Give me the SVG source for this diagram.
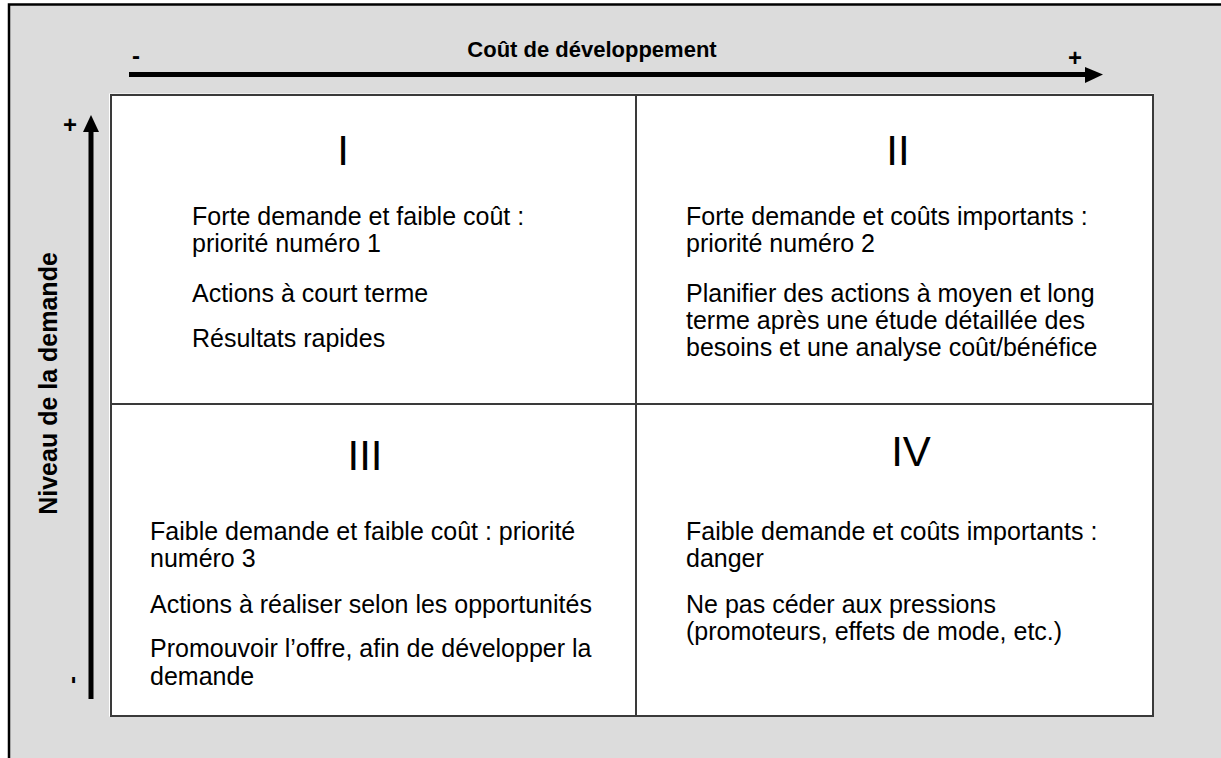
<svg xmlns="http://www.w3.org/2000/svg" width="1221" height="758" viewBox="0 0 1221 758">
<style>
.t{font-family:"Liberation Sans",Arial,sans-serif;font-size:25px;fill:#000}
.r{font-family:"Liberation Sans",Arial,sans-serif;font-size:42px;fill:#000;text-anchor:middle}
.b{font-family:"Liberation Sans",Arial,sans-serif;font-weight:bold;fill:#000;text-anchor:middle}
.grid{fill:none;stroke:#3a3a3a;stroke-width:2}
</style>
<rect x="0" y="0" width="1221" height="758" fill="#ffffff"/>
<rect x="9" y="4.5" width="1222" height="770" fill="#dcdcdc" stroke="#000" stroke-width="2.5"/>
<g id="matrix">
<rect x="109" y="93.5" width="1045" height="623" fill="#ffffff"/>
<rect x="111" y="95" width="1042" height="621" class="grid"/>
<line x1="111" y1="404" x2="1153" y2="404" class="grid"/>
<line x1="636" y1="95" x2="636" y2="716" class="grid"/>
</g>
<g id="axis-x">
<text class="b" x="592" y="57" font-size="22">Coût de développement</text>
<text class="b" x="136" y="64" font-size="24">-</text>
<text class="b" x="1075" y="66" font-size="24">+</text>
</g>
<g id="axis-y">
<text class="b" transform="translate(57,383.5) rotate(-90)" font-size="25">Niveau de la demande</text>
<text class="b" x="70" y="133" font-size="24">+</text>
<text class="b" transform="translate(80,680) rotate(-90)" font-size="24">-</text>
</g>
<g id="connectors">
<rect x="129" y="72" width="960" height="5" fill="#000"/>
<polygon points="1085,67 1103,74.5 1085,83" fill="#000"/>
<rect x="88.5" y="130" width="5" height="569" fill="#000"/>
<polygon points="83,132 91,115 99,132" fill="#000"/>
</g>
<g id="q1">
<text class="r" x="343" y="165">I</text>
<text class="t" x="192" y="225">Forte demande et faible coût :</text>
<text class="t" x="192" y="252">priorité numéro 1</text>
<text class="t" x="192" y="302">Actions à court terme</text>
<text class="t" x="192" y="347">Résultats rapides</text>
</g>
<g id="q2">
<text class="r" x="898" y="165">II</text>
<text class="t" x="686" y="225">Forte demande et coûts importants :</text>
<text class="t" x="686" y="252">priorité numéro 2</text>
<text class="t" x="686" y="302">Planifier des actions à moyen et long</text>
<text class="t" x="686" y="329">terme après une étude détaillée des</text>
<text class="t" x="686" y="356">besoins et une analyse coût/bénéfice</text>
</g>
<g id="q3">
<text class="r" x="365" y="470">III</text>
<text class="t" x="150" y="540">Faible demande et faible coût : priorité</text>
<text class="t" x="150" y="567">numéro 3</text>
<text class="t" x="150" y="613">Actions à réaliser selon les opportunités</text>
<text class="t" x="150" y="657">Promouvoir l’offre, afin de développer la</text>
<text class="t" x="150" y="685">demande</text>
</g>
<g id="q4">
<text class="r" x="911" y="466">IV</text>
<text class="t" x="686" y="540">Faible demande et coûts importants :</text>
<text class="t" x="686" y="567">danger</text>
<text class="t" x="686" y="613">Ne pas céder aux pressions</text>
<text class="t" x="686" y="640">(promoteurs, effets de mode, etc.)</text>
</g>
</svg>
